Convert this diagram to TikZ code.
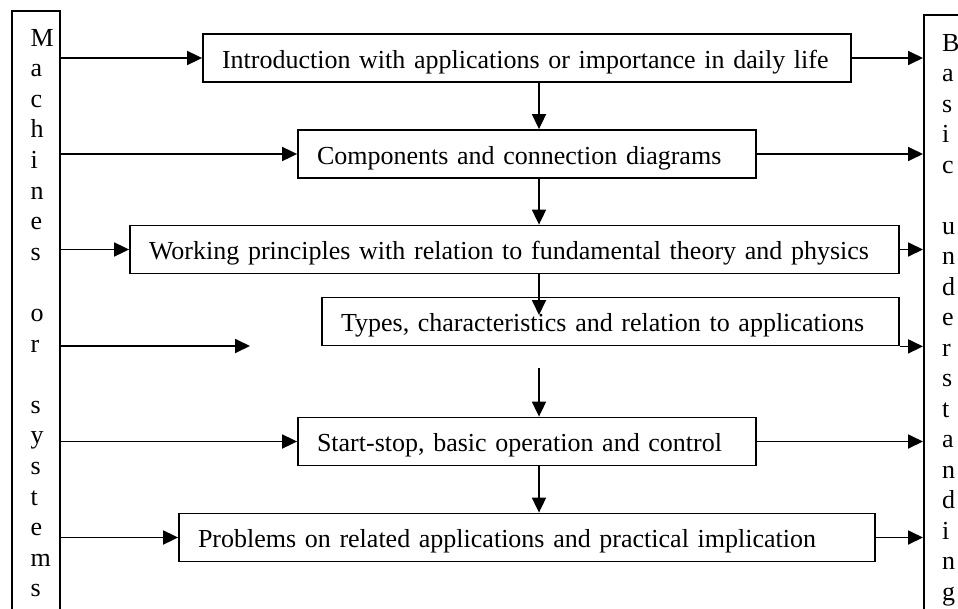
\documentclass[tikz,border=0pt]{standalone}
\usepackage{fontspec}
\setmainfont{Liberation Serif}
\usetikzlibrary{arrows.meta}

\tikzset{
  stage/.style={draw, line width=1.8pt, inner xsep=19pt, inner ysep=0pt,
    text height=34pt, text depth=14pt, align=left},
  sidebox/.style={draw, line width=1.8pt, minimum width=#1, minimum height=660pt,
    anchor=north west, inner sep=0pt},
  letter/.style={inner sep=0pt, anchor=base west},
  flow/.style={line width=1.8pt, -{Triangle[length=15pt,width=14pt]}}
}

\begin{document}
\begin{tikzpicture}[x=1pt, y=-1pt, font=\fontsize{26}{30.6}\selectfont]
		\useasboundingbox (0,0) rectangle (958,608);
		\clip (0,0) rectangle (958,608);
		\node[sidebox=48pt] (machines) at (11,10) {};
		\node[sidebox=60pt] (basic) at (923,14) {};
		\foreach \ch/\k in {M/0,a/1,c/2,h/3,i/4,n/5,e/6,s/7,o/9,r/10,s/12,y/13,s/14,t/15,e/16,m/17,s/18}
			\node[letter] (m\k) at (30.5,{46+30.6*\k}) {\ch};
		\foreach \ch/\k in {B/0,a/1,s/2,i/3,c/4,u/6,n/7,d/8,e/9,r/10,s/11,t/12,a/13,n/14,d/15,i/16,n/17,g/18}
			\node[letter] (b\k) at (942,{51+30.5*\k}) {\ch};
		\node[stage, text width=610pt] (intro) at (527,58) {Introduction with applications or importance in daily life};
		\node[stage, text width=420pt] (parts) at (527,154) {Components and connection diagrams};
		\node[stage, text width=731pt] (principle) at (514.5,249.5) {Working principles with relation to fundamental theory and physics};
		\node[stage, text width=539pt] (types) at (610.5,321.5) {Types, characteristics and relation to applications};
		\node[stage, text width=420pt] (control) at (527,441.5) {Start-stop, basic operation and control};
		\node[stage, text width=658pt] (problems) at (527,537.5) {Problems on related applications and practical implication};
		\coordinate (spine) at (539,0);
		\coordinate (typesin) at (539,315);
		\coordinate (typesout) at (539,368);
		\coordinate (typesfree) at (250,346);
		\foreach \s in {intro,parts,principle,control,problems}
		{
			\draw[flow] (\s.west -| machines.east) -- (\s.west);
			\draw[flow] (\s.east) -- (\s.east -| basic.west);
		}
		\draw[flow] (typesfree -| machines.east) -- (typesfree);
		\draw[flow] (types.south east) -- (types.south east -| basic.west);
		\draw[flow] (intro.south -| spine) -- (parts.north -| spine);
		\draw[flow] (parts.south -| spine) -- (principle.north -| spine);
		\draw[flow] (principle.south -| spine) -- (typesin);
		\draw[flow] (typesout) -- (control.north -| spine);
		\draw[flow] (control.south -| spine) -- (problems.north -| spine);
\end{tikzpicture}
\end{document}
